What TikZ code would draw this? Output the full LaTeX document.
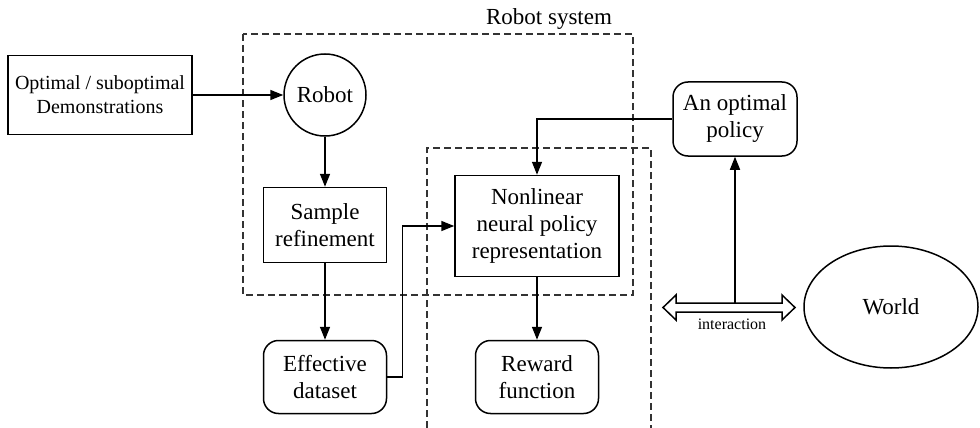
\documentclass[tikz,border=0pt]{standalone}
\usepackage{fontspec}
\setmainfont{Liberation Serif}
\usetikzlibrary{arrows.meta,shapes.geometric}

\begin{document}
\begin{tikzpicture}[x=1pt,y=-1pt,>={Triangle[length=13pt,width=10pt]},
  every path/.style={line width=1.5pt},
  box/.style={draw,align=center,inner sep=0pt,font=\fontsize{23}{27}\selectfont},
  rbox/.style={box,rounded corners=15pt},
  frame/.style={draw,line width=1.1pt,dash pattern=on 7pt off 4pt,black!80}]
\useasboundingbox (0,0) rectangle (980,428);

\draw[frame] (243,34) rectangle (633,295);
\draw[frame] (427,428) |- (651,148) -- (651,428);
\node[font=\fontsize{23}{27}\selectfont] (syslabel) at (549,19) {Robot system};

\node[box,minimum width=184pt,minimum height=79pt,font=\fontsize{20}{24}\selectfont] (demo) at (100,95) {Optimal / suboptimal\\Demonstrations};
\node[box,circle,minimum size=82pt] (robot) at (325,95) {Robot};
\node[box,minimum width=123pt,minimum height=75pt] (sample) at (325,225) {Sample\\refinement};
\node[rbox,minimum width=123pt,minimum height=73pt] (data) at (325,377) {Effective\\dataset};
\node[box,minimum width=164pt,minimum height=101pt] (nn) at (537,226) {Nonlinear\\neural policy\\representation};
\node[rbox,minimum width=123pt,minimum height=73pt] (reward) at (537,377) {Reward\\function};
\node[rbox,minimum width=124pt,minimum height=74pt] (policy) at (735,119) {An optimal\\policy};
\node[box,ellipse,minimum width=174pt,minimum height=122pt] (world) at (891,307) {World};
\draw (663,307.5) -- (676,295) -- (676,303) -- (782,303) -- (782,295) -- (795,307.5)
  -- (782,320) -- (782,312) -- (676,312) -- (676,320) -- cycle;
\node[font=\fontsize{16}{19}\selectfont] (interact) at (732,324) {interaction};
\coordinate (ia) at (735,303);

\draw[->] (demo) -- (robot);
\draw[->] (robot) -- (sample);
\draw[->] (sample) -- (data);
\draw[->] (data.east) -- ++(15,0) |- (nn.west);
\draw[->] (policy.west) -| (nn.north);
\draw[->] (nn) -- (reward);
\draw[->] (ia) -- (policy);
\end{tikzpicture}
\end{document}
